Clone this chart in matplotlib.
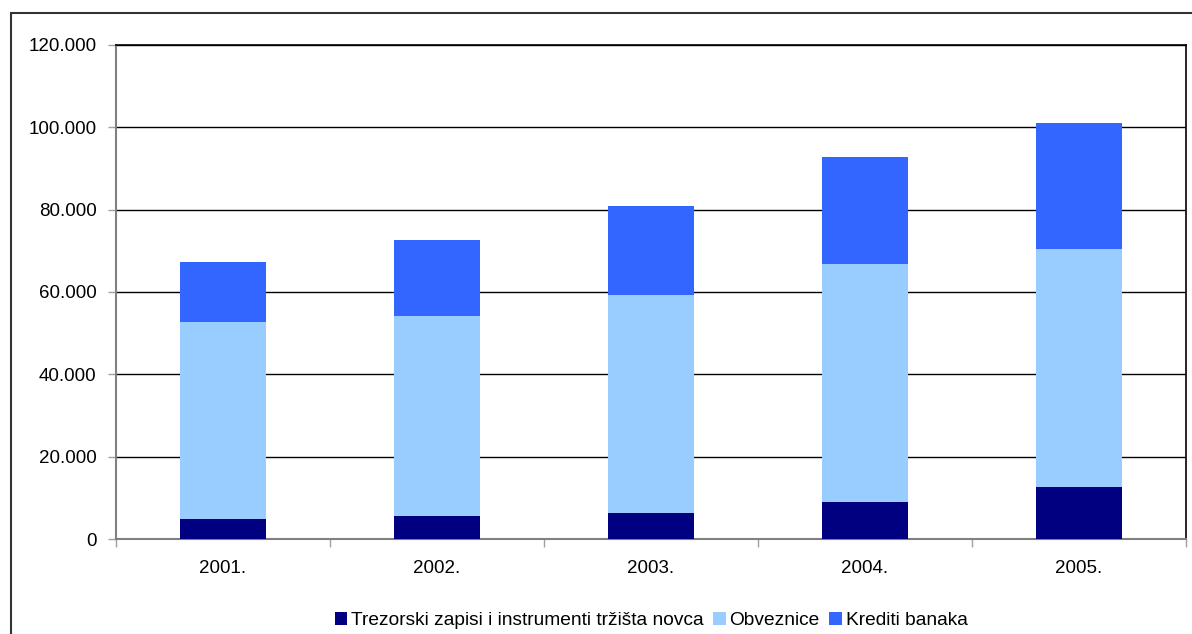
import matplotlib.pyplot as plt
from matplotlib.patches import Rectangle
from matplotlib.ticker import FuncFormatter, FixedLocator
import numpy as np

plt.rcParams['font.family'] = ['Liberation Sans', 'DejaVu Sans']

years = ["2001.", "2002.", "2003.", "2004.", "2005."]
trezorski = [4900, 5600, 6300, 9000, 12600]
obveznice = [47850, 48600, 52950, 57800, 57800]
krediti = [14550, 18450, 21600, 26000, 30600]

labels = ["Trezorski zapisi i instrumenti tržišta novca", "Obveznice", "Krediti banaka"]
colors = ["#000080", "#99ccff", "#3366ff"]

fig = plt.figure(figsize=(11.92, 6.34), dpi=100)
ax = fig.add_axes([116 / 1192, 95 / 634, 1070 / 1192, 494 / 634])

# outer chart frame
fig.patches.append(Rectangle((11 / 1192, -0.1), 1.2, (634 - 13) / 634 + 0.1,
                             transform=fig.transFigure, fill=False,
                             edgecolor="#333333", linewidth=1.5, zorder=0))

x = np.arange(len(years))
bottom = np.zeros(len(years))
for vals, lab, col in zip([trezorski, obveznice, krediti], labels, colors):
    ax.bar(x, vals, width=0.4, bottom=bottom, color=col, label=lab, zorder=3)
    bottom += np.array(vals)

ax.set_xlim(-0.5, len(years) - 0.5)
ax.set_ylim(0, 120000)
ax.set_yticks(np.arange(0, 120001, 20000))
ax.yaxis.set_major_formatter(FuncFormatter(lambda v, p: f"{int(v):,}".replace(",", ".")))
ax.yaxis.grid(True, color="black", linewidth=1.0, zorder=1)

ax.xaxis.set_major_locator(FixedLocator(np.arange(-0.5, len(years), 1.0)))
ax.set_xticklabels([])
ax.xaxis.set_minor_locator(FixedLocator(x))
ax.set_xticklabels(years, minor=True)
ax.tick_params(axis="x", which="minor", length=0, pad=15, labelsize=13.5)
ax.tick_params(axis="x", which="major", length=6, color="#a0a0a0", width=1)
ax.tick_params(axis="y", length=6, color="#a0a0a0", width=1, pad=8, labelsize=13.5)

for side in ["left", "bottom"]:
    ax.spines[side].set_color("#808080")
    ax.spines[side].set_linewidth(1.5)
for side in ["top", "right"]:
    ax.spines[side].set_color("black")
    ax.spines[side].set_linewidth(1.2)

ax.legend(loc="center", bbox_to_anchor=(0.5, -0.165), ncol=3, frameon=False,
          fontsize=13.8, handlelength=0.65, handleheight=0.65, handletextpad=0.2,
          columnspacing=0.5)

fig.savefig("out.png", dpi=100)
